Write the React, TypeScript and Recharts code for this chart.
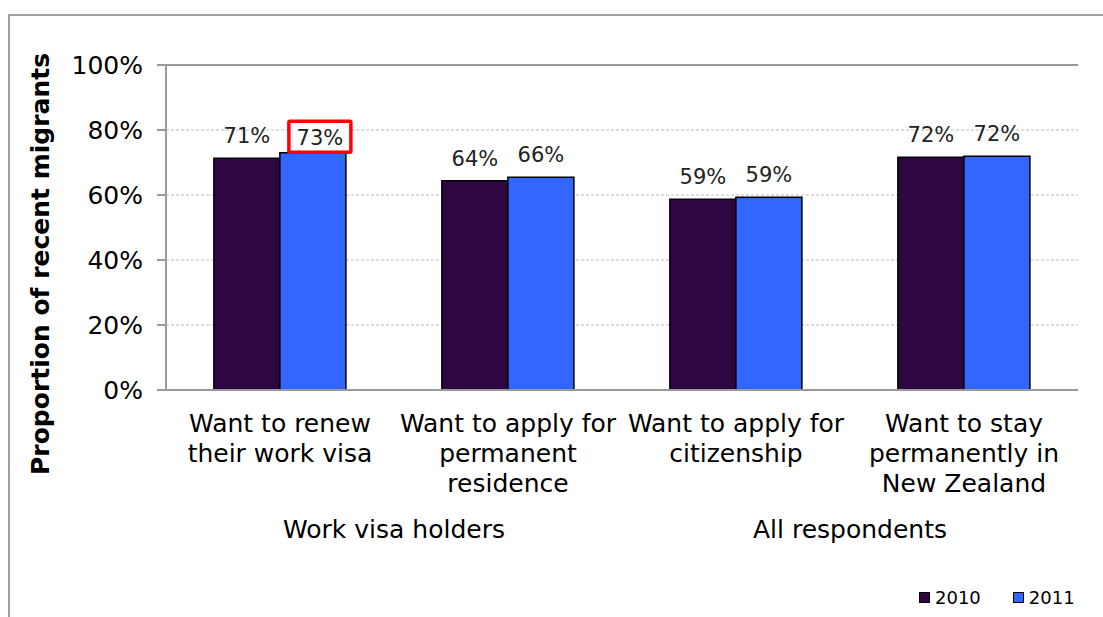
import React from "react";
import {
  BarChart,
  Bar,
  XAxis,
  YAxis,
  CartesianGrid,
  LabelList,
  Label,
  ReferenceLine,
} from "recharts";

// Chart data
const categories = [
  "Want to renew\ntheir work visa",
  "Want to apply for\npermanent\nresidence",
  "Want to apply for\ncitizenship",
  "Want to stay\npermanently in\nNew Zealand",
];
const groups = ["Work visa holders", "Work visa holders", "All respondents", "All respondents"];
const values2010 = [0.713, 0.644, 0.587, 0.716];
const values2011 = [0.73, 0.655, 0.593, 0.719];
const seriesNames = ["2010", "2011"];
const yTicks = [0, 0.2, 0.4, 0.6, 0.8, 1];
const yTitle = "Proportion of recent migrants";

// the label with the red box around it
const highlightSeries = "2011";
const highlightIndex = 0;

const COLORS = ["#2E0742", "#3366FF"];
const FONT = "'DejaVu Sans', Verdana, sans-serif";
const GRAY = "#9A9A9A";

const data = categories.map((cat, i) => ({
  cat,
  group: groups[i],
  y2010: values2010[i],
  y2011: values2011[i],
}));

const pct = (v: number) => `${Math.round(v * 100)}%`;

function CategoryTick({ x, y, payload }: any) {
  const lines = String(payload.value).split("\n");
  return (
    <text x={x} y={y} textAnchor="middle" fill="#000" fontSize={25} fontFamily={FONT}>
      {lines.map((l, i) => (
        <tspan key={i} x={x} dy={i === 0 ? 42 : 30}>
          {l}
        </tspan>
      ))}
    </text>
  );
}

function GroupTick({ x, y, payload }: any) {
  return (
    <text x={x} y={y + 38} textAnchor="middle" fill="#000" fontSize={25} fontFamily={FONT}>
      {payload.value}
    </text>
  );
}

const makeLabel = (series: string) => (props: any) => {
  const { x, y, width, value, index } = props;
  const cx = x + width / 2;
  if (series === highlightSeries && index === highlightIndex) {
    const tx = cx + 7;
    const base = y - 7.5;
    return (
      <g>
        <rect x={tx - 31} y={base - 24} width={62} height={31} fill="#fff" stroke="#FF0000" strokeWidth={3.5} rx={1} />
        <text x={tx} y={base} textAnchor="middle" fill="#222" fontSize={21} fontFamily={FONT}>
          {pct(value)}
        </text>
      </g>
    );
  }
  return (
    <text x={cx} y={y - 15} textAnchor="middle" fill="#222" fontSize={21} fontFamily={FONT}>
      {pct(value)}
    </text>
  );
};

export default function App() {
  return (
    <div
      style={{
        position: "absolute",
        left: 0,
        top: 0,
        width: 1103,
        height: 617,
        overflow: "hidden",
        background: "#fff",
        fontFamily: FONT,
      }}
    >
      <div
        style={{
          position: "absolute",
          left: 8,
          top: 14,
          width: 1200,
          height: 700,
          border: `2px solid #A0A0A0`,
        }}
      />
      <div style={{ position: "absolute", left: 0, top: 0 }}>
        <BarChart
          width={1103}
          height={617}
          data={data}
          margin={{ top: 65, right: 25, left: 0, bottom: 0 }}
          barCategoryGap="21%"
          barGap={0}
        >
          <CartesianGrid vertical={false} stroke="#BDBDBD" strokeDasharray="3 2" />
          <XAxis
            dataKey="cat"
            interval={0}
            tickSize={0}
            tickMargin={0}
            tickLine={false}
            height={110}
            axisLine={{ stroke: GRAY, strokeWidth: 2 }}
            tick={<CategoryTick />}
          />
          <XAxis
            xAxisId="grp"
            dataKey="group"
            allowDuplicatedCategory={false}
            interval={0}
            tickSize={0}
            tickMargin={0}
            tickLine={false}
            axisLine={false}
            height={117}
            tick={<GroupTick />}
          />
          <YAxis
            domain={[0, 1]}
            ticks={yTicks}
            tickFormatter={pct}
            width={166}
            tickSize={9}
            tickMargin={14}
            tickLine={{ stroke: GRAY, strokeWidth: 2 }}
            axisLine={{ stroke: GRAY, strokeWidth: 2 }}
            tick={{ fill: "#000", fontSize: 25, fontFamily: FONT }}
          >
            <Label
              content={() => (
                <text
                  x={40}
                  y={264}
                  transform="rotate(-90 40 264)"
                  textAnchor="middle"
                  dominantBaseline="central"
                  fontSize={25}
                  fontWeight="bold"
                  fontFamily={FONT}
                  fill="#000"
                >
                  {yTitle}
                </text>
              )}
            />
          </YAxis>
          <YAxis
            yAxisId="right"
            orientation="right"
            domain={[0, 1]}
            width={0}
            tick={false}
            tickLine={false}
            axisLine={{ stroke: GRAY, strokeWidth: 2 }}
          />
          <ReferenceLine y={1} stroke={GRAY} strokeWidth={2} />
          <Bar dataKey="y2010" name={seriesNames[0]} fill={COLORS[0]} stroke="#000" strokeWidth={1.5} isAnimationActive={false}>
            <LabelList dataKey="y2010" content={makeLabel(seriesNames[0])} />
          </Bar>
          <Bar dataKey="y2011" name={seriesNames[1]} fill={COLORS[1]} stroke="#000" strokeWidth={1.5} isAnimationActive={false}>
            <LabelList dataKey="y2011" content={makeLabel(seriesNames[1])} />
          </Bar>
        </BarChart>
      </div>
      <div
        style={{
          position: "absolute",
          left: 919,
          top: 587,
          display: "flex",
          alignItems: "center",
          fontSize: 18,
          color: "#000",
        }}
      >
        {seriesNames.map((n, i) => (
          <div key={n} style={{ display: "flex", alignItems: "center", marginRight: i === 0 ? 32 : 0 }}>
            <span
              style={{
                display: "inline-block",
                width: 9,
                height: 9,
                border: "1px solid #000",
                background: COLORS[i],
                marginRight: 5,
              }}
            />
            <span>{n}</span>
          </div>
        ))}
      </div>
    </div>
  );
}
